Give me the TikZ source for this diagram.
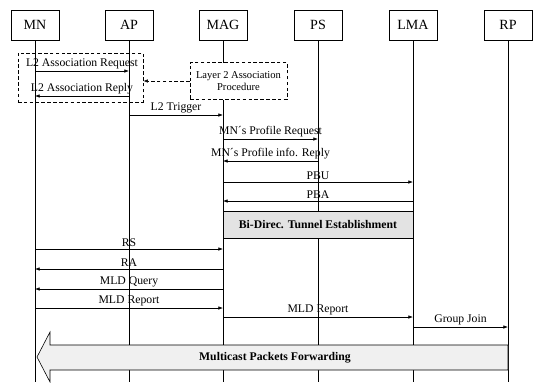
\documentclass[tikz,border=0pt]{standalone}
\usepackage{fontspec}
\setmainfont{Liberation Serif}
\usetikzlibrary{arrows.meta, positioning, calc}

\begin{document}
\begin{tikzpicture}[x=0.03cm, y=-0.03cm,
  ent/.style={draw, fill=white, minimum width=1.44cm, minimum height=0.9cm,
              inner sep=0pt, font=\large},
  life/.style={draw, line width=0.5pt},
  msg/.style={-{Latex[length=4pt, width=3pt]}, line width=0.5pt},
  lbl/.style={midway, above, inner sep=1.5pt, font=\normalsize},
  grp/.style={draw, dash pattern=on 3pt off 2pt, line width=0.5pt},
]
\useasboundingbox (0,0) rectangle (537,382);

% Entities
\node[ent] (mn) at (35,25) {MN};
\node[ent] (ap) at (129,25) {AP};
\node[ent] (mag) at (223,25) {MAG};
\node[ent] (ps) at (318,25) {PS};
\node[ent] (lma) at (413,25) {LMA};
\node[ent] (rp) at (508,25) {RP};

% Lifelines
\draw[life, line width=0.8pt] (mn.south) -- (mn.south |- 0,382);
\draw[life] (ap.south) -- (ap.south |- 0,382);
\draw[life] (mag.south) -- (mag.south |- 0,382);
\draw[life] (ps.south) -- (ps.south |- 0,382);
\draw[life] (lma.south) -- (lma.south |- 0,382);
\draw[life] (rp.south) -- (rp.south |- 0,382);

% Layer 2 association
\node[grp, minimum width=3.75cm, minimum height=1.47cm] (l2grp) at (80.5,77.5) {};
\node[grp, fill=white, minimum width=2.91cm, minimum height=1.11cm, align=center,
      font=\small, inner sep=1pt] (l2p) at (238.5,81) {Layer 2 Association\\Procedure};
\draw[grp, -{Latex[length=4pt, width=3pt]}] (l2p.west) -- (l2grp.east |- l2p.west);

\draw[msg] (mn |- 0,71) -- (ap |- 0,71) node[lbl] {L2 Association Request};
\draw[msg] (ap |- 0,96) -- (mn |- 0,96) node[lbl] {L2 Association Reply};
\draw[msg] (ap |- 0,115) -- (mag |- 0,115) node[lbl] {L2 Trigger};

% Profile and binding
\draw[msg] (mag |- 0,139) -- (ps |- 0,139) node[lbl] {MN´s Profile Request};
\draw[msg] (ps |- 0,161) -- (mag |- 0,161) node[lbl] {MN´s Profile info. Reply};
\draw[msg] (mag |- 0,182) -- (lma |- 0,182) node[lbl] {PBU};
\draw[msg] (lma |- 0,201) -- (mag |- 0,201) node[lbl] {PBA};

\node[draw, fill=gray!22, minimum width=5.7cm, minimum height=0.81cm, inner sep=0pt,
      font=\bfseries] (tun) at (318,224.5) {Bi-Direc. Tunnel Establishment};

% Multicast signalling
\draw[msg] (mn |- 0,249) -- (mag |- 0,249) node[lbl] {RS};
\draw[msg] (mag |- 0,269) -- (mn |- 0,269) node[lbl] {RA};
\draw[msg] (mag |- 0,289) -- (mn |- 0,289) node[lbl] {MLD Query};
\draw[msg] (mn |- 0,308) -- (mag |- 0,308) node[lbl] {MLD Report};
\draw[msg] (mag |- 0,317) -- (lma |- 0,317) node[lbl] {MLD Report};
\draw[msg] (lma |- 0,327) -- (rp |- 0,327) node[lbl] {Group Join};

% Forwarding arrow
\draw[fill=gray!12, line width=0.5pt] (rp |- 0,345) -- (50,345) -- (50,332) -- (37,357)
  -- (50,382) -- (50,370) -- (rp |- 0,370) -- cycle;
\node[font=\bfseries] (fwd) at (275,357.5) {Multicast Packets Forwarding};
\end{tikzpicture}
\end{document}
